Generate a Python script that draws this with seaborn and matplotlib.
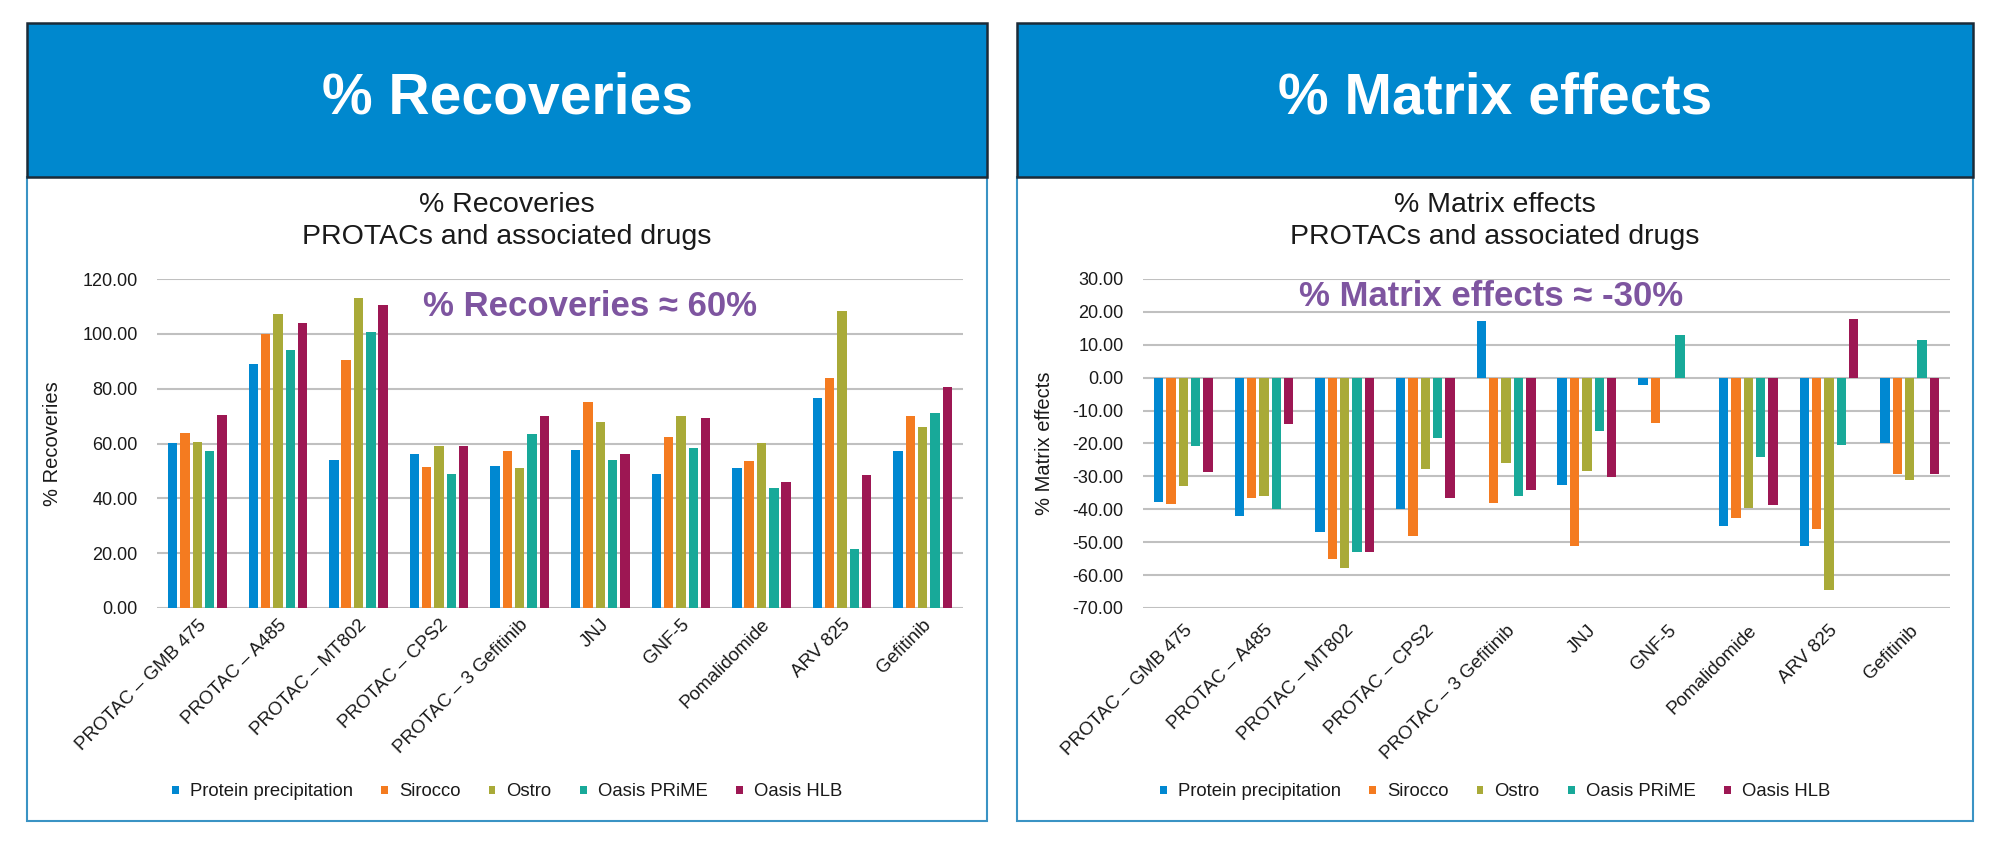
import numpy as np
import pandas as pd
import matplotlib
matplotlib.use("Agg")
import matplotlib.pyplot as plt
from matplotlib.patches import Rectangle
import seaborn as sns

compounds = ["PROTAC \u2013 GMB 475", "PROTAC \u2013 A485", "PROTAC \u2013 MT802", "PROTAC \u2013 CPS2",
             "PROTAC \u2013 3 Gefitinib", "JNJ", "GNF-5", "Pomalidomide", "ARV 825", "Gefitinib"]
methods = ["Protein precipitation", "Sirocco", "Ostro", "Oasis PRiME", "Oasis HLB"]

rec_protein = [60.2, 89.0, 53.9, 56.1, 51.8, 57.7, 49.0, 51.1, 76.7, 57.2]
rec_sirocco = [64.0, 100.1, 90.5, 51.6, 57.2, 75.2, 62.2, 53.5, 84.0, 70.1]
rec_ostro = [60.5, 107.3, 113.2, 59.1, 51.0, 67.9, 70.1, 60.2, 108.2, 66.1]
rec_prime = [57.2, 94.1, 100.7, 49.0, 63.3, 54.1, 58.2, 43.8, 21.7, 71.1]
rec_hlb = [70.4, 103.8, 110.4, 59.1, 70.1, 56.3, 69.4, 46.0, 48.5, 80.6]

me_protein = [-37.8, -41.9, -46.8, -39.9, 17.1, -32.5, -2.1, -45.0, -51.2, -19.9]
me_sirocco = [-38.5, -36.5, -55.0, -48.2, -38.2, -51.1, -13.8, -42.7, -45.9, -29.2]
me_ostro = [-32.8, -36.1, -57.8, -27.7, -26.0, -28.5, 0.0, -39.5, -64.6, -31.0]
me_prime = [-20.9, -39.9, -52.9, -18.3, -36.1, -16.3, 12.9, -24.2, -20.4, 11.4]
me_hlb = [-28.7, -14.2, -52.9, -36.5, -34.2, -30.2, 0.0, -38.7, 17.7, -29.2]

colors = ["#0088D1", "#F47B20", "#A9AA38", "#18A999", "#9D1753"]
header_blue = "#0088CE"
purple = "#7E55A0"
grid_col = "#C0C0C0"


def long_df(series):
    rows = []
    for m, vals in zip(methods, series):
        for c, v in zip(compounds, vals):
            rows.append({"compound": c, "method": m, "value": v})
    return pd.DataFrame(rows)


rec_df = long_df([rec_protein, rec_sirocco, rec_ostro, rec_prime, rec_hlb])
me_df = long_df([me_protein, me_sirocco, me_ostro, me_prime, me_hlb])

sns.set_theme(style="white")
plt.rcParams["font.family"] = ["Liberation Sans", "DejaVu Sans"]

W, H = 2000, 849
fig = plt.figure(figsize=(20, 8.49), dpi=100)


def fx(px):
    return px / W


def fy(py):
    return 1 - py / H


panels = [
    dict(x0=27, x1=987, head="% Recoveries", title="% Recoveries\nPROTACs and associated drugs",
         ax=(157, 963), df=rec_df, ylim=(0, 120), step=20, ylabel="% Recoveries",
         ylab_x=-0.118, ann="% Recoveries \u2248 60%", ann_xy=(590, 306), xpad=6),
    dict(x0=1017, x1=1973, head="% Matrix effects", title="% Matrix effects\nPROTACs and associated drugs",
         ax=(1143, 1950), df=me_df, ylim=(-70, 30), step=10, ylabel="% Matrix effects",
         ylab_x=-0.110, ann="% Matrix effects \u2248 -30%", ann_xy=(1491, 296), xpad=10),
]

for p in panels:
    x0, x1 = p["x0"], p["x1"]
    # panel body border
    fig.patches.append(Rectangle((fx(x0), fy(821)), fx(x1 - x0), (821 - 177) / H,
                                 transform=fig.transFigure, facecolor="white",
                                 edgecolor="#3A93C4", linewidth=1.5, zorder=-2))
    # header box
    fig.patches.append(Rectangle((fx(x0), fy(177)), fx(x1 - x0), (177 - 23) / H,
                                 transform=fig.transFigure, facecolor=header_blue,
                                 edgecolor="#1B2B38", linewidth=1.8, zorder=-1))
    cx = (x0 + x1) / 2
    fig.text(fx(cx), fy(98), p["head"], color="white", fontsize=41, fontweight="bold",
             ha="center", va="center", zorder=5)
    fig.text(fx(cx), fy(221), p["title"], color="#1A1A1A", fontsize=20.5,
             ha="center", va="center", linespacing=1.3, zorder=5)

    a0, a1 = p["ax"]
    ax = fig.add_axes([fx(a0), fy(608), fx(a1 - a0), (608 - 279) / H])
    ax.set_zorder(2)
    ax.set_facecolor("none")
    sns.barplot(data=p["df"], x="compound", y="value", hue="method", palette=colors,
                saturation=1, width=0.765, gap=0.24, linewidth=0, errorbar=None,
                ax=ax, zorder=3)
    lo, hi = p["ylim"]
    ax.set_ylim(lo, hi)
    ax.set_xlim(-0.5, len(compounds) - 0.5)
    ax.set_yticks(np.arange(lo, hi + 0.1, p["step"]))
    ax.yaxis.set_major_formatter(matplotlib.ticker.FormatStrFormatter("%.2f"))
    ax.grid(axis="y", color=grid_col, linewidth=1.5, zorder=0)
    ax.set_axisbelow(True)
    for s in ax.spines.values():
        s.set_visible(False)
    ax.tick_params(axis="y", length=0, pad=14, labelsize=13, labelcolor="#1A1A1A")
    ax.tick_params(axis="x", length=0, pad=p["xpad"], labelsize=13.5, labelcolor="#1A1A1A")
    for lab in ax.get_xticklabels():
        lab.set_rotation(45)
        lab.set_ha("right")
        lab.set_rotation_mode("anchor")
    ax.set_xlabel("")
    ax.set_ylabel(p["ylabel"], fontsize=14.5, color="#1A1A1A")
    ax.yaxis.set_label_coords(p["ylab_x"], 0.5)
    fig.text(fx(p["ann_xy"][0]), fy(p["ann_xy"][1]), p["ann"], color=purple,
             fontsize=25, fontweight="bold", ha="center", va="center", zorder=6)
    sns.move_legend(ax, "center", bbox_to_anchor=(fx(cx), fy(792)),
                    bbox_transform=fig.transFigure, ncol=5, frameon=False, title=None,
                    fontsize=13.3, handlelength=0.35, handleheight=0.35,
                    handletextpad=0.6, columnspacing=1.55)
    for t in ax.get_legend().get_texts():
        t.set_color("#1A1A1A")

fig.savefig("out.png", dpi=100, facecolor="white")
